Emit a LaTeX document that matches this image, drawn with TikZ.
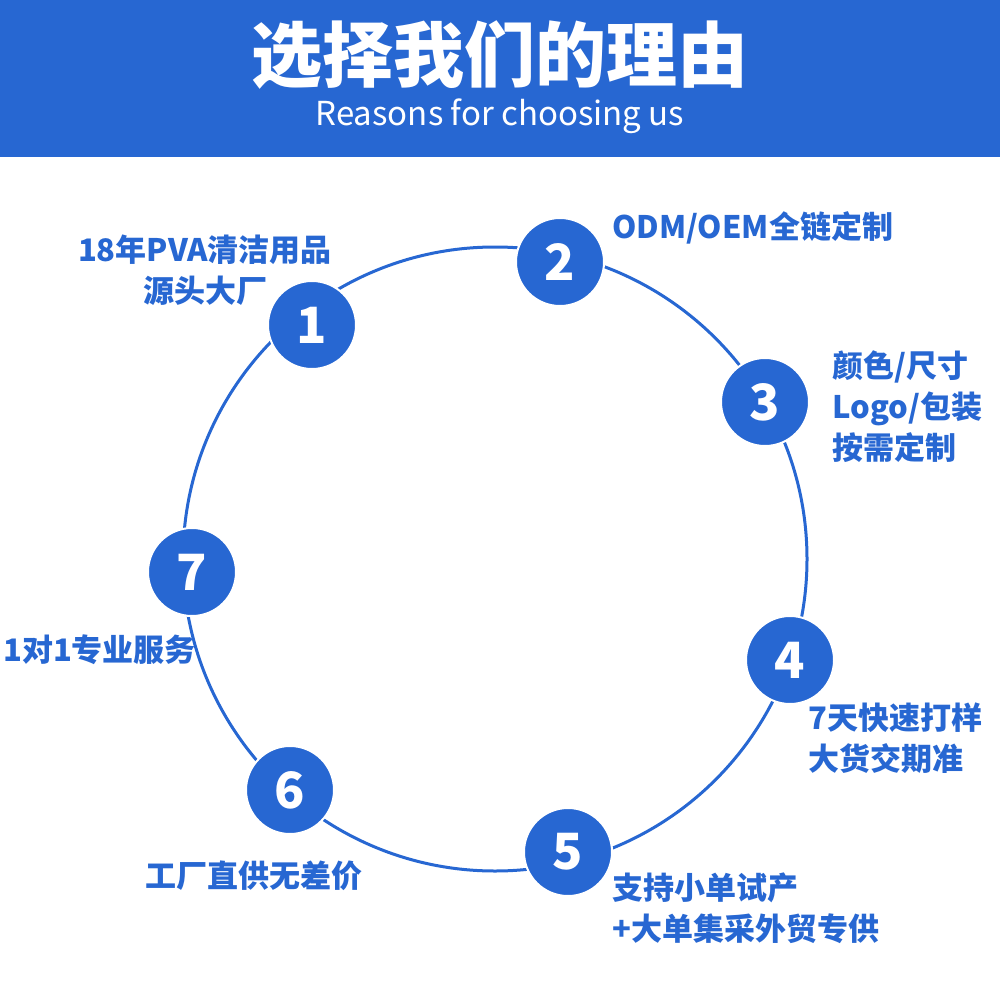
\documentclass[tikz,border=0pt]{standalone}
\usepackage{fontspec}
\setmainfont{Noto Sans CJK SC}[BoldFont={Noto Sans CJK SC Black}]
\newfontfamily\cjkb{Noto Sans CJK SC Black}
\newfontfamily\latl{Noto Sans CJK SC}
\definecolor{myblue}{HTML}{2767D2}
\begin{document}
\begin{tikzpicture}[x=1pt,y=-1pt,
  num/.style={circle,fill=myblue,draw=white,line width=2pt,minimum size=88pt,inner sep=0pt,text=white,font=\bfseries\fontsize{50}{50}\selectfont},
  lab/.style={text=myblue,font=\bfseries\fontsize{31}{41}\selectfont,inner sep=0pt}]
\useasboundingbox (0,0) rectangle (1000,1000);
\fill[myblue] (0,0) rectangle (1000,157);
\node[text=white,font=\cjkb\fontsize{71}{71}\selectfont] (t) at (500,55) {选择我们的理由};
\node[text=white,font=\latl\fontsize{33}{33}\selectfont] (s) at (500,116) {Reasons for choosing us};
\coordinate (c) at (495,559);
\draw[myblue,line width=3pt] (c) circle[radius=312];
\node[num] (n1) at (312,325) {1};
\node[num] (n2) at (560,262) {2};
\node[num] (n3) at (765,402) {3};
\node[num] (n4) at (790,660) {4};
\node[num] (n5) at (568,852) {5};
\node[num] (n6) at (290,790) {6};
\node[num] (n7) at (192,572) {7};
\node[lab,align=center,anchor=center] (l1) at (205,270) {18年PVA清洁用品\\源头大厂};
\node[lab,anchor=west] (l2) at (612,228) {ODM/OEM全链定制};
\node[lab,anchor=west,align=left] (l3) at (832,407) {颜色/尺寸\\Logo/包装\\按需定制};
\node[lab,anchor=west,align=left] (l4) at (808,738) {7天快速打样\\大货交期准};
\node[lab,anchor=west,align=left] (l5) at (612,908) {支持小单试产\\+大单集采外贸专供};
\node[lab,anchor=west] (l6) at (145,876) {工厂直供无差价};
\node[lab,anchor=west] (l7) at (3,650) {1对1专业服务};
\end{tikzpicture}
\end{document}
